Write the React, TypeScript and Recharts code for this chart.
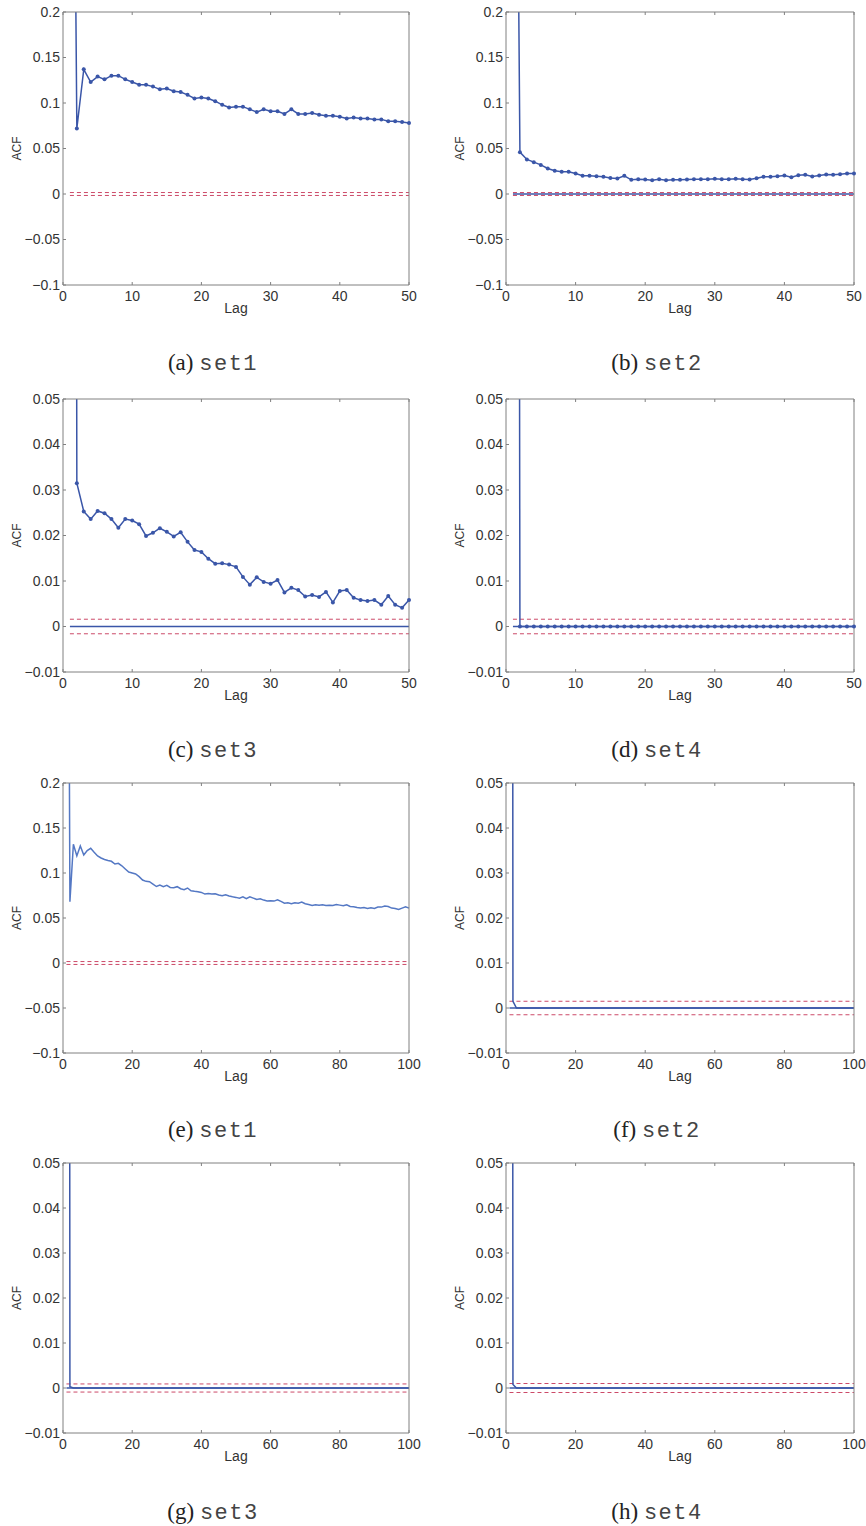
import { Line, LineChart, ReferenceLine, XAxis, YAxis } from "recharts";

// lag index (MATLAB style, lag 0 sits at x = 1)
const LAGS_50 = [
  1, 2, 3, 4, 5, 6, 7, 8, 9, 10, 11, 12, 13, 14, 15, 16, 17, 18, 19, 20,
  21, 22, 23, 24, 25, 26, 27, 28, 29, 30, 31, 32, 33, 34, 35, 36, 37, 38, 39, 40,
  41, 42, 43, 44, 45, 46, 47, 48, 49, 50,
];
const LAGS_100 = [
  1, 2, 3, 4, 5, 6, 7, 8, 9, 10, 11, 12, 13, 14, 15, 16, 17, 18, 19, 20,
  21, 22, 23, 24, 25, 26, 27, 28, 29, 30, 31, 32, 33, 34, 35, 36, 37, 38, 39, 40,
  41, 42, 43, 44, 45, 46, 47, 48, 49, 50, 51, 52, 53, 54, 55, 56, 57, 58, 59, 60,
  61, 62, 63, 64, 65, 66, 67, 68, 69, 70, 71, 72, 73, 74, 75, 76, 77, 78, 79, 80,
  81, 82, 83, 84, 85, 86, 87, 88, 89, 90, 91, 92, 93, 94, 95, 96, 97, 98, 99, 100,
];

const ACF_SET1_50 = [
  1, 0.072, 0.137, 0.123, 0.129, 0.126, 0.13, 0.13, 0.126, 0.123,
  0.12, 0.12, 0.118, 0.115, 0.116, 0.113, 0.112, 0.109, 0.105, 0.106,
  0.105, 0.102, 0.098, 0.095, 0.096, 0.096, 0.093, 0.09, 0.093, 0.091,
  0.091, 0.088, 0.093, 0.088, 0.088, 0.089, 0.087, 0.086, 0.086, 0.085,
  0.083, 0.084, 0.083, 0.083, 0.082, 0.082, 0.08, 0.08, 0.079, 0.078,
];
const ACF_SET2_50 = [
  1, 0.046, 0.038, 0.035, 0.032, 0.028, 0.0255, 0.0245, 0.0245, 0.0225,
  0.02, 0.02, 0.0196, 0.019, 0.0175, 0.017, 0.02, 0.0156, 0.0163, 0.016,
  0.015, 0.0163, 0.015, 0.0156, 0.0156, 0.016, 0.0163, 0.0163, 0.0163, 0.0167,
  0.0163, 0.0163, 0.0167, 0.0163, 0.016, 0.0174, 0.019, 0.019, 0.0196, 0.0203,
  0.0185, 0.0207, 0.0211, 0.0192, 0.0203, 0.0214, 0.0211, 0.0218, 0.0225, 0.0225,
];
const ACF_SET3_50 = [
  1, 0.0315, 0.0253, 0.0236, 0.0254, 0.0249, 0.0236, 0.0217, 0.0236, 0.0233,
  0.0225, 0.0199, 0.0206, 0.0216, 0.0208, 0.0198, 0.0207, 0.0186, 0.0168, 0.0164,
  0.0149, 0.0138, 0.0139, 0.0136, 0.0131, 0.0109, 0.0092, 0.0108, 0.0098, 0.0094,
  0.0102, 0.0075, 0.0085, 0.008, 0.0066, 0.0069, 0.0065, 0.0076, 0.0053, 0.0078,
  0.008, 0.0063, 0.0058, 0.0056, 0.0058, 0.0048, 0.0067, 0.0048, 0.0041, 0.0058,
];
const ACF_SET4_50 = [
  1, 0, 0, 0, 0, 0, 0, 0, 0, 0,
  0, 0, 0, 0, 0, 0, 0, 0, 0, 0,
  0, 0, 0, 0, 0, 0, 0, 0, 0, 0,
  0, 0, 0, 0, 0, 0, 0, 0, 0, 0,
  0, 0, 0, 0, 0, 0, 0, 0, 0, 0,
];

const ACF_SET1_100 = [
  1, 0.068, 0.132, 0.119, 0.13, 0.12, 0.125, 0.1275, 0.123, 0.119,
  0.1167, 0.115, 0.1138, 0.113, 0.11, 0.1108, 0.108, 0.1045, 0.101, 0.1,
  0.099, 0.096, 0.0922, 0.0907, 0.0903, 0.0877, 0.085, 0.0866, 0.0848, 0.0862,
  0.084, 0.0836, 0.0848, 0.0825, 0.0814, 0.0833, 0.0803, 0.0796, 0.0792, 0.0784,
  0.0766, 0.0773, 0.0766, 0.077, 0.0755, 0.0747, 0.0758, 0.0744, 0.0736, 0.0729,
  0.0721, 0.0736, 0.0714, 0.0736, 0.0721, 0.0706, 0.0714, 0.0699, 0.0688, 0.0691,
  0.0688, 0.0703, 0.0684, 0.0665, 0.0669, 0.0658, 0.0669, 0.0665, 0.0677, 0.0658,
  0.065, 0.0639, 0.0647, 0.0643, 0.0647, 0.0639, 0.0643, 0.0639, 0.065, 0.0643,
  0.0636, 0.0647, 0.0628, 0.0625, 0.0617, 0.061, 0.0617, 0.0606, 0.0613, 0.0606,
  0.0621, 0.0621, 0.0632, 0.0628, 0.061, 0.0606, 0.0595, 0.061, 0.0625, 0.061,
];
const ACF_SET2_100 = [
  1, 0.0015, 0, 0, 0, 0, 0, 0, 0, 0,
  0, 0, 0, 0, 0, 0, 0, 0, 0, 0,
  0, 0, 0, 0, 0, 0, 0, 0, 0, 0,
  0, 0, 0, 0, 0, 0, 0, 0, 0, 0,
  0, 0, 0, 0, 0, 0, 0, 0, 0, 0,
  0, 0, 0, 0, 0, 0, 0, 0, 0, 0,
  0, 0, 0, 0, 0, 0, 0, 0, 0, 0,
  0, 0, 0, 0, 0, 0, 0, 0, 0, 0,
  0, 0, 0, 0, 0, 0, 0, 0, 0, 0,
  0, 0, 0, 0, 0, 0, 0, 0, 0, 0,
];
const ACF_SET3_100 = [
  1, 0.0003, 0, 0, 0, 0, 0, 0, 0, 0,
  0, 0, 0, 0, 0, 0, 0, 0, 0, 0,
  0, 0, 0, 0, 0, 0, 0, 0, 0, 0,
  0, 0, 0, 0, 0, 0, 0, 0, 0, 0,
  0, 0, 0, 0, 0, 0, 0, 0, 0, 0,
  0, 0, 0, 0, 0, 0, 0, 0, 0, 0,
  0, 0, 0, 0, 0, 0, 0, 0, 0, 0,
  0, 0, 0, 0, 0, 0, 0, 0, 0, 0,
  0, 0, 0, 0, 0, 0, 0, 0, 0, 0,
  0, 0, 0, 0, 0, 0, 0, 0, 0, 0,
];
const ACF_SET4_100 = [
  1, 0.0008, 0, 0, 0, 0, 0, 0, 0, 0,
  0, 0, 0, 0, 0, 0, 0, 0, 0, 0,
  0, 0, 0, 0, 0, 0, 0, 0, 0, 0,
  0, 0, 0, 0, 0, 0, 0, 0, 0, 0,
  0, 0, 0, 0, 0, 0, 0, 0, 0, 0,
  0, 0, 0, 0, 0, 0, 0, 0, 0, 0,
  0, 0, 0, 0, 0, 0, 0, 0, 0, 0,
  0, 0, 0, 0, 0, 0, 0, 0, 0, 0,
  0, 0, 0, 0, 0, 0, 0, 0, 0, 0,
  0, 0, 0, 0, 0, 0, 0, 0, 0, 0,
];

const Y_TICKS_WIDE = [-0.1, -0.05, 0, 0.05, 0.1, 0.15, 0.2];
const Y_TICKS_NARROW = [-0.01, 0, 0.01, 0.02, 0.03, 0.04, 0.05];
const X_TICKS_50 = [0, 10, 20, 30, 40, 50];
const X_TICKS_100 = [0, 20, 40, 60, 80, 100];

// ± confidence bounds (red dashed), one per panel a..h
const CONF_BOUNDS = [0.0016, 0.0016, 0.0016, 0.0016, 0.0016, 0.0015, 0.0009, 0.001];
const CAPTION_LETTERS = ["a", "b", "c", "d", "e", "f", "g", "h"];
const CAPTION_SETS = ["set1", "set2", "set3", "set4", "set1", "set2", "set3", "set4"];

const DARK = "#3a56a8";
const LIGHT = "#5478c4";
const RED = "#cc4a68";
const AXIS = "#808080";
const TEXT = "#333333";
const SANS = '"Liberation Sans", Arial, Helvetica, sans-serif';

const PANELS = [
  { lags: LAGS_50, acf: ACF_SET1_50, yTicks: Y_TICKS_WIDE, xTicks: X_TICKS_50, dots: true, zero: false, color: DARK },
  { lags: LAGS_50, acf: ACF_SET2_50, yTicks: Y_TICKS_WIDE, xTicks: X_TICKS_50, dots: true, zero: true, color: DARK },
  { lags: LAGS_50, acf: ACF_SET3_50, yTicks: Y_TICKS_NARROW, xTicks: X_TICKS_50, dots: true, zero: true, color: DARK },
  { lags: LAGS_50, acf: ACF_SET4_50, yTicks: Y_TICKS_NARROW, xTicks: X_TICKS_50, dots: true, zero: true, color: DARK },
  { lags: LAGS_100, acf: ACF_SET1_100, yTicks: Y_TICKS_WIDE, xTicks: X_TICKS_100, dots: false, zero: false, color: LIGHT },
  { lags: LAGS_100, acf: ACF_SET2_100, yTicks: Y_TICKS_NARROW, xTicks: X_TICKS_100, dots: false, zero: true, color: DARK },
  { lags: LAGS_100, acf: ACF_SET3_100, yTicks: Y_TICKS_NARROW, xTicks: X_TICKS_100, dots: false, zero: true, color: DARK },
  { lags: LAGS_100, acf: ACF_SET4_100, yTicks: Y_TICKS_NARROW, xTicks: X_TICKS_100, dots: false, zero: true, color: DARK },
];

// page layout: plot-area tops and heights per row, caption centres
const ROW_TOPS = [12, 399, 783, 1163];
const ROW_PLOT_H = [273, 273, 270, 270];
const CAPTION_Y = [363, 750, 1130, 1512];
const CAPTION_X = [213, 657];

const fmtY = (v: number) => (v < 0 ? `\u2212${Math.abs(v)}` : `${v}`);
const tickStyle = { fill: TEXT, fontSize: 14, fontFamily: SANS };

function AcfPanel({ idx }: { idx: number }) {
  const p = PANELS[idx];
  const col = idx % 2;
  const row = Math.floor(idx / 2);
  const plotH = ROW_PLOT_H[row];
  const conf = CONF_BOUNDS[idx];
  const maxLag = p.xTicks[p.xTicks.length - 1];
  const yDomain = [p.yTicks[0], p.yTicks[p.yTicks.length - 1]];
  const data = p.lags.map((lag, i) => ({ lag, acf: p.acf[i] }));
  const yAxisW = col === 0 ? 63 : 73;

  // the top/right axes are 1px deep (a 0px axis is not drawn), margins make up for it
  return (
    <div style={{ position: "absolute", left: col * 433, top: ROW_TOPS[row] - 10 }}>
      <LineChart
        width={433}
        height={plotH + 50}
        data={data}
        margin={{ top: 9, right: col === 0 ? 23 : 11, left: 0, bottom: 0 }}
      >
        <XAxis
          dataKey="lag"
          type="number"
          domain={[0, maxLag]}
          ticks={p.xTicks}
          height={40}
          stroke={AXIS}
          tickSize={-3}
          tickMargin={9}
          tick={tickStyle}
          label={{ value: "Lag", position: "insideBottom", offset: 12, fill: TEXT, fontSize: 14, fontFamily: SANS }}
        />
        <XAxis
          xAxisId="top"
          orientation="top"
          dataKey="lag"
          type="number"
          domain={[0, maxLag]}
          ticks={p.xTicks}
          height={1}
          stroke={AXIS}
          tickSize={-3}
          tickFormatter={() => ""}
        />
        <YAxis
          type="number"
          domain={yDomain}
          ticks={p.yTicks}
          allowDataOverflow
          width={yAxisW}
          stroke={AXIS}
          tickSize={-3}
          tickMargin={6}
          tick={tickStyle}
          tickFormatter={fmtY}
          label={{
            value: "ACF",
            angle: -90,
            position: "insideLeft",
            offset: col === 0 ? 17 : 27,
            fill: TEXT,
            fontSize: 12,
            fontFamily: SANS,
            style: { textAnchor: "middle" },
          }}
        />
        <YAxis
          yAxisId="right"
          orientation="right"
          type="number"
          domain={yDomain}
          ticks={p.yTicks}
          width={1}
          stroke={AXIS}
          tickSize={-3}
          tickFormatter={() => ""}
        />
        {p.zero && (
          <ReferenceLine
            segment={[{ x: 1, y: 0 }, { x: maxLag, y: 0 }]}
            stroke={DARK}
            strokeWidth={1.5}
          />
        )}
        <ReferenceLine
          segment={[{ x: 1, y: conf }, { x: maxLag, y: conf }]}
          stroke={RED}
          strokeDasharray="4 3"
        />
        <ReferenceLine
          segment={[{ x: 1, y: -conf }, { x: maxLag, y: -conf }]}
          stroke={RED}
          strokeDasharray="4 3"
        />
        <Line
          dataKey="acf"
          type="linear"
          stroke={p.color}
          strokeWidth={1.5}
          dot={p.dots ? { r: 2, fill: p.color, stroke: p.color, strokeWidth: 0 } : false}
          isAnimationActive={false}
        />
      </LineChart>
    </div>
  );
}

function Caption({ idx }: { idx: number }) {
  const col = idx % 2;
  const row = Math.floor(idx / 2);
  return (
    <div
      style={{
        position: "absolute",
        left: CAPTION_X[col] - 150,
        top: CAPTION_Y[row] - 15,
        width: 300,
        height: 30,
        lineHeight: "30px",
        textAlign: "center",
        color: "#222",
        whiteSpace: "nowrap",
      }}
    >
      <span style={{ fontFamily: '"Liberation Serif", "Times New Roman", serif', fontSize: 23 }}>
        ({CAPTION_LETTERS[idx]}){" "}
      </span>
      <span style={{ fontFamily: '"Liberation Mono", "Courier New", monospace', fontSize: 22, letterSpacing: 1.5, color: "#444" }}>
        {CAPTION_SETS[idx]}
      </span>
    </div>
  );
}

export default function App() {
  return (
    <div style={{ position: "absolute", left: 0, top: 0, width: 866, height: 1526, background: "#fff", overflow: "hidden" }}>
      {PANELS.map((_, i) => (
        <AcfPanel key={`p${i}`} idx={i} />
      ))}
      {PANELS.map((_, i) => (
        <Caption key={`c${i}`} idx={i} />
      ))}
    </div>
  );
}
